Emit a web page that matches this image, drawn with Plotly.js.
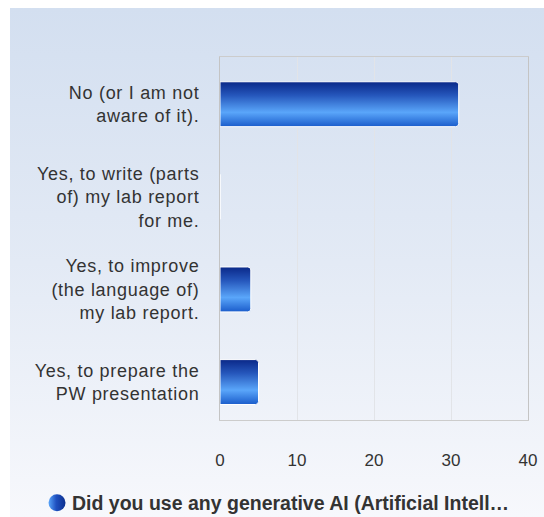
<!DOCTYPE html>
<html>
<head>
<meta charset="utf-8">
<script src="https://cdn.plot.ly/plotly-3.0.1.min.js"></script>
<style>
  html, body { margin: 0; padding: 0; background: #ffffff; overflow: hidden; }
  #frame {
    position: absolute; left: 10px; top: 8px; width: 534px; height: 509px; overflow: hidden;
    background: linear-gradient(to bottom, #d3dff0 0%, #e3eaf5 50%, #f7f8fc 100%);
  }
  #chart { width: 534px; height: 540px; }
  #chart .ytick text { letter-spacing: 0.7px; }
</style>
</head>
<body>
<div id="frame"><div id="chart"></div></div>
<script>
const categories = [
  "No (or I am not<br>aware of it).",
  "Yes, to write (parts<br>of) my lab report<br>for me.",
  "Yes, to improve<br>(the language of)<br>my lab report.",
  "Yes, to prepare the<br>PW presentation"
];
const values = [31, 0, 4, 5];
const seriesName = "Did you use any generative AI (Artificial Intell…";
const xTicks = [0, 10, 20, 30, 40];

const trace = {
  type: "bar",
  orientation: "h",
  y: categories,
  x: values,
  name: seriesName,
  width: 0.485,
  marker: { color: "#2a6ad8", line: { color: "#ffffff", width: 1 }, cornerradius: 3 },
  hoverinfo: "x+y",
  showlegend: true
};

const layout = {
  width: 534, height: 540,
  paper_bgcolor: "rgba(0,0,0,0)",
  plot_bgcolor: "rgba(0,0,0,0)",
  margin: { l: 210, r: 16, t: 49, b: 128 },
  font: { family: "Liberation Sans, Arial, sans-serif", size: 18, color: "#333333" },
  xaxis: {
    range: [0, 40], tickvals: xTicks, ticktext: xTicks.map(String),
    showgrid: true, gridcolor: "#e2e4e8", gridwidth: 1,
    zeroline: false, showline: true, mirror: true, linecolor: "#cccccc", linewidth: 1,
    ticks: "outside", ticklen: 25, tickcolor: "rgba(0,0,0,0)",
    tickfont: { size: 17, color: "#333333" }, fixedrange: true, automargin: false
  },
  yaxis: {
    range: [3.41, -0.51], showgrid: false, zeroline: false,
    showline: true, mirror: true, linecolor: "#c4c4c4", linewidth: 1,
    ticks: "outside", ticklen: 16, tickcolor: "rgba(0,0,0,0)",
    tickfont: { size: 18, color: "#333333" }, fixedrange: true, automargin: false
  },
  showlegend: true,
  legend: {
    orientation: "h", x: 0.19, xanchor: "center", y: -0.229, yanchor: "middle",
    itemwidth: 30,
    font: { size: 19.5, color: "#333333", family: "Liberation Sans, Arial, sans-serif", weight: "bold" },
    bgcolor: "rgba(0,0,0,0)", itemclick: false
  }
};

function decorate(gd) {
  const ns = "http://www.w3.org/2000/svg";
  const svg = gd.querySelector("svg.main-svg");
  let defs = svg.querySelector("defs");
  if (!defs) { defs = document.createElementNS(ns, "defs"); svg.insertBefore(defs, svg.firstChild); }
  function grad(id, x2, y2, stops) {
    if (document.getElementById(id)) return;
    const g = document.createElementNS(ns, "linearGradient");
    g.setAttribute("id", id);
    g.setAttribute("x1", "0"); g.setAttribute("y1", "0");
    g.setAttribute("x2", x2); g.setAttribute("y2", y2);
    stops.forEach(function (s) {
      const st = document.createElementNS(ns, "stop");
      st.setAttribute("offset", s[0]); st.setAttribute("stop-color", s[1]);
      g.appendChild(st);
    });
    defs.appendChild(g);
  }
  grad("barGrad", "0", "1", [["0%", "#0a2888"], ["30%", "#2556bb"], ["68%", "#5aa6fa"], ["100%", "#1a5ccb"]]);
  grad("dotGrad", "1", "0", [["0%", "#5aa6fa"], ["45%", "#1f50c0"], ["100%", "#0c2f8e"]]);
  gd.querySelectorAll(".barlayer path, .bars path").forEach(function (p) {
    p.style.setProperty("fill", "url(#barGrad)", "important");
    p.setAttribute("fill", "url(#barGrad)");
  });
  gd.querySelectorAll(".legend .legendpoints path").forEach(function (p) {
    p.setAttribute("d", "M8.5,0A8.5,8.5 0 1,1 -8.5,0A8.5,8.5 0 1,1 8.5,0Z");
    p.style.setProperty("fill", "url(#dotGrad)", "important");
    p.style.stroke = "none";
  });
  gd.querySelectorAll(".legend .legendtext").forEach(function (t) {
    if (t.dataset.shifted) return;
    const x0 = parseFloat(t.getAttribute("x") || "0");
    t.setAttribute("x", String(x0 - 5));
    t.dataset.shifted = "1";
  });
}

Plotly.newPlot("chart", [trace], layout, { displayModeBar: false, staticPlot: true }).then(function (gd) {
  decorate(gd);
  setTimeout(function () { decorate(gd); }, 100);
});
</script>
</body>
</html>
